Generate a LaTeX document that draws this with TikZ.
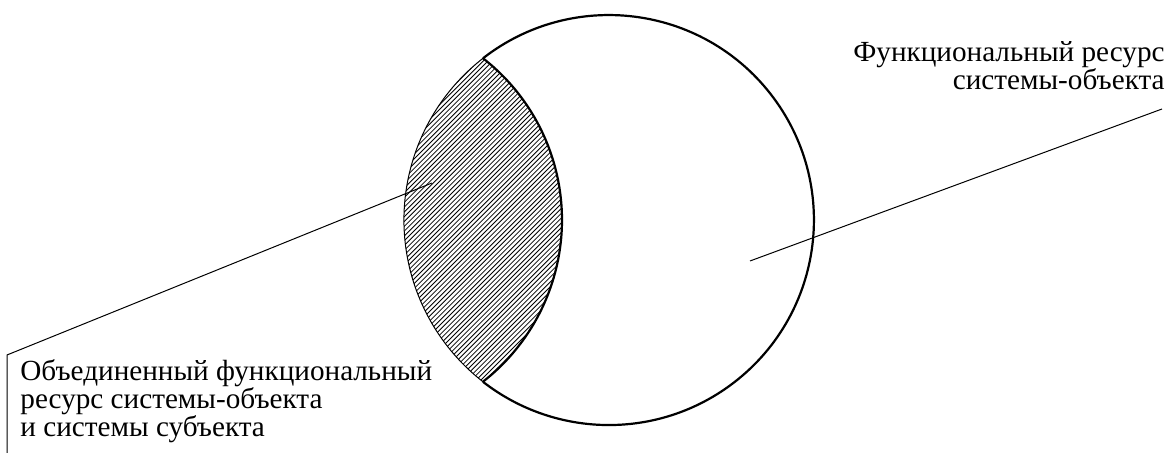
\documentclass[tikz,border=0pt]{standalone}
\usepackage{fontspec}
\setmainfont{Liberation Serif}
\usetikzlibrary{positioning,calc}
\tikzset{
  outline/.style={line width=1.1pt},
  thinarc/.style={line width=0.5pt},
  hatch/.style={line width=0.4pt},
  leader/.style={line width=0.5pt},
  tagtext/.style={font=\fontsize{14.6}{14}\selectfont, inner sep=0pt}
}

\begin{document}
\begin{tikzpicture}[x=0.5pt, y=0.5pt]
  \useasboundingbox (0,0) rectangle (1167,453);
  % centres of the two resource circles
  \coordinate (objc) at (609,233);
  \coordinate (subc) at (357,233);
  \coordinate (lenstop) at (483,394.7);
  \coordinate (lensbot) at (483,71.3);
  % hatched common part
  \begin{scope}
    \clip (objc) circle (205);
    \clip (subc) circle (205);
    \foreach \k in {0,4.8,...,520}
      \draw[hatch] (\k-20,-20) -- ++(500,500);
  \end{scope}
  % circle and lens boundary
  \draw[outline] (lenstop) arc[start angle=127.9, end angle=-127.9, radius=205];
  \draw[thinarc] (lenstop) arc[start angle=127.9, end angle=232.1, radius=205];
  \draw[outline] (lenstop) arc[start angle=52.07, end angle=-52.07, radius=205];
  % labels (base = last line)
  \node[tagtext, align=right, anchor=base east] (objlabel) at (1165,363)
    {Функциональный ресурс\\системы-объекта};
  \node[tagtext, align=left, anchor=base west] (jointlabel) at (20,16)
    {Объединенный функциональный\\ресурс системы-объекта\\и системы субъекта};
  % leaders
  \coordinate (objpt) at (750,192);
  \coordinate (objend) at (1162,344);
  \coordinate (jointpt) at (432,270);
  \coordinate (bend) at (7,98);
  \coordinate (bendend) at (7,0);
  \draw[leader] (objpt) -- (objend);
  \draw[leader] (jointpt) -- (bend) -- (bendend);
\end{tikzpicture}
\end{document}
